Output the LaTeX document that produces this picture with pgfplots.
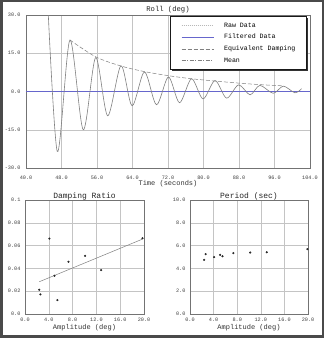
\documentclass[border=0pt]{standalone}
\usepackage{pgfplots}
\pgfplotsset{compat=1.18}
\usepackage{fontspec}
\setmainfont{Liberation Mono}
\definecolor{gridc}{HTML}{C4C4C4}
\definecolor{curvec}{HTML}{808080}
\definecolor{bluec}{HTML}{6666CC}
\definecolor{framec}{HTML}{4A4A4A}
\definecolor{rawc}{HTML}{B8B8B8}
\begin{document}
\begin{tikzpicture}[x=1pt,y=1pt]
\useasboundingbox (0,0) rectangle (324,338);
\fill[white] (0,0) rectangle (324,338);
\pgfplotsset{
 common/.style={
  scale only axis, anchor=south west,
  axis line style={draw=black!55, line width=0.5pt},
  grid=major, grid style={gridc, line width=0.5pt},
  major tick length=0pt,
  tick label style={font=\fontsize{5.2}{6}\selectfont, text=black!75},
  /pgf/number format/assume math mode=true,
  scaled ticks=false,
  every axis title shift=0pt,
  xlabel style={font=\fontsize{7}{8}\selectfont, text=black!80, anchor=center, inner sep=0pt},
  title style={anchor=center, inner sep=0pt, yshift=0pt, text=black!85},
 },
}
% ---------- Roll ----------
\begin{axis}[common,
  at={(26pt,170pt)}, width=284pt, height=153pt,
  xmin=40, xmax=104, ymin=-30, ymax=30,
  xtick={40,48,56,64,72,80,88,96,104},
  xticklabels={40.0,48.0,56.0,64.0,72.0,80.0,88.0,96.0,104.0},
  ytick={-30,-15,0,15,30},
  yticklabels={-30.0,-15.0,0.0,15.0,30.0},
  xticklabel style={yshift=-4pt},
  yticklabel style={xshift=-2pt},
  title={Roll (deg)},
  title style={at={(axis description cs:0.5,1.033)}, font=\fontsize{7.2}{8}\selectfont},
  xlabel={Time (seconds)},
  xlabel style={at={(axis description cs:0.5,-0.105)}},
  legend cell align=left,
  legend style={name=leg, at={(0.988,0.989)}, anchor=north east, draw=none,
    fill=white, font=\fontsize{6.6}{7}\selectfont,
    inner xsep=11pt, inner ysep=5.9pt, row sep=6pt, column sep=10pt,
    nodes={inner sep=0pt, text height=4.5pt, text depth=1.2pt}},
]
\addlegendimage{legend image code/.code={\draw[draw=rawc, line width=0.6pt, dash pattern=on 1pt off 1pt] (0pt,0pt) -- (32pt,0pt);}}
\addlegendentry{Raw Data}
\addlegendimage{legend image code/.code={\draw[draw=bluec, line width=0.8pt] (0pt,0pt) -- (32pt,0pt);}}
\addlegendentry{Filtered Data}
\addlegendimage{legend image code/.code={\draw[draw=curvec, line width=0.5pt, dash pattern=on 4pt off 2pt] (0pt,0pt) -- (32pt,0pt);}}
\addlegendentry{Equivalent Damping}
\addlegendimage{legend image code/.code={\draw[draw=curvec, line width=0.5pt, dash pattern=on 4pt off 1.5pt on 1pt off 1.5pt] (0pt,0pt) -- (32pt,0pt);}}
\addlegendentry{Mean}
\addplot[bluec, line width=0.6pt, forget plot] coordinates {(40,0) (104,0)};
\addplot[curvec, line width=0.6pt, smooth, forget plot] coordinates {
 (44.7,42) (47.05,-23.5) (49.9,20.2) (52.9,-15.0) (55.7,13.3) (58.4,-9.5)
 (61.4,10.1) (63.9,-5.6) (66.7,7.7) (69.4,-5.2) (72.1,5.7) (74.6,-4.4)
 (77.3,5.0) (79.9,-2.9) (82.6,4.3) (85.2,-2.6) (87.9,2.6) (90.5,-1.3)
 (92.7,2.4) (95.7,-0.7) (98.0,2.1) (100.6,-0.5) (102.1,1.1)};
\addplot[curvec, line width=0.5pt, smooth, dash pattern=on 4pt off 2pt, forget plot] coordinates {
 (49.9,20.2) (55.7,13.6) (61.4,10.0) (66.7,7.8) (72.1,6.2) (77.3,5.0)
 (82.6,4.1) (87.9,3.3) (92.7,2.7) (98.0,2.2)};
\end{axis}
% legend border and shadow (right and bottom edges)
\draw[black!90, line width=0.6pt] (leg.south west) rectangle (leg.north east);
\fill[black!80] ([yshift=-1.8pt]leg.north east) rectangle ([xshift=1.8pt,yshift=-1.8pt]leg.south east);
\fill[black!80] ([xshift=1.8pt]leg.south west) rectangle ([xshift=1.8pt,yshift=-1.8pt]leg.south east);
% ---------- Damping Ratio ----------
\begin{axis}[common,
  at={(25pt,24pt)}, width=119pt, height=114pt,
  xmin=0, xmax=20, ymin=0, ymax=0.1,
  xtick={0,4,8,12,16,20},
  xticklabels={0.0,4.0,8.0,12.0,16.0,20.0},
  ytick={0,0.02,0.04,0.06,0.08,0.1},
  yticklabels={0.0,0.02,0.04,0.06,0.08,0.1},
  yticklabel style={xshift=-1pt},
  title={Damping Ratio},
  title style={at={(axis description cs:0.5,1.03)}, font=\fontsize{8}{9}\selectfont},
  xlabel={Amplitude (deg)},
  xlabel style={at={(axis description cs:0.5,-0.118)}},
]
\addplot[curvec, line width=0.5pt] coordinates {(2.4,0.0283) (19.7,0.0656)};
\addplot[only marks, mark=*, mark size=0.85pt, black!85] coordinates {
 (2.4,0.0213) (2.6,0.0172) (4.1,0.0662) (4.95,0.0335) (5.45,0.0122)
 (7.3,0.0458) (10.1,0.0510) (12.8,0.0385) (19.75,0.0665)};
\end{axis}
% ---------- Period ----------
\begin{axis}[common,
  at={(190pt,24pt)}, width=118pt, height=114pt,
  xmin=0, xmax=20, ymin=0, ymax=10,
  xtick={0,4,8,12,16,20},
  xticklabels={0.0,4.0,8.0,12.0,16.0,20.0},
  ytick={0,2,4,6,8,10},
  yticklabels={0.0,2.0,4.0,6.0,8.0,10.0},
  yticklabel style={xshift=-1pt},
  title={Period (sec)},
  title style={at={(axis description cs:0.5,1.03)}, font=\fontsize{8}{9}\selectfont},
  xlabel={Amplitude (deg)},
  xlabel style={at={(axis description cs:0.5,-0.118)}},
]
\addplot[only marks, mark=*, mark size=0.85pt, black!85] coordinates {
 (2.4,4.75) (2.65,5.25) (4.1,4.99) (5.1,5.19) (5.5,5.07)
 (7.35,5.34) (10.2,5.39) (13.0,5.42) (19.9,5.69)};
\end{axis}
\draw[framec, line width=2.5pt] (1.25,1.25) rectangle (322.75,336.75);
\end{tikzpicture}
\end{document}
